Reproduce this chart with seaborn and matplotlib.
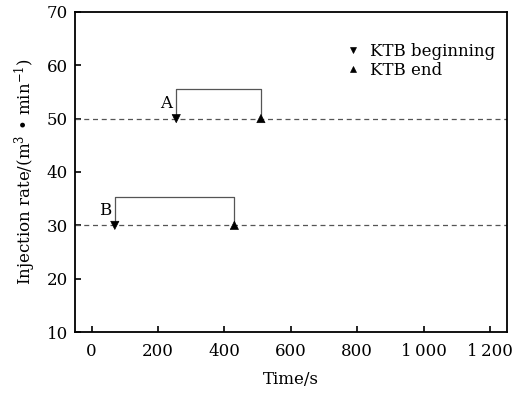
import pandas as pd
import seaborn as sns
import matplotlib.pyplot as plt

sns.set_style("ticks")
plt.rcParams['font.family'] = ['DejaVu Serif']
plt.rcParams['mathtext.fontset'] = 'dejavuserif'
plt.rcParams['text.color'] = 'black'
plt.rcParams['axes.labelcolor'] = 'black'
plt.rcParams['xtick.color'] = 'black'
plt.rcParams['ytick.color'] = 'black'

# data
events = ['A', 'B']
rate = [50, 30]
begin_time = [255, 70]
end_time = [510, 430]
bracket_top = [55.5, 35.3]

df = pd.DataFrame({
    'time': begin_time + end_time,
    'rate': rate + rate,
    'kind': ['KTB beginning'] * len(events) + ['KTB end'] * len(events),
})

fig, ax = plt.subplots(figsize=(5.17, 3.94), dpi=100)

for r in rate:
    ax.axhline(r, color='#555555', lw=0.9, ls=(0, (4, 3)), zorder=1)

for ev, r, t0, t1, top in zip(events, rate, begin_time, end_time, bracket_top):
    ax.plot([t0, t0, t1, t1], [r, top, top, r], color='#555555', lw=0.9, zorder=2)
    ax.text(t0 - 12, r + 1.2, ev, ha='right', va='bottom', fontsize=12)

sns.scatterplot(data=df, x='time', y='rate', style='kind',
                markers={'KTB beginning': 'v', 'KTB end': '^'},
                color='black', s=35, edgecolor='black', zorder=3, ax=ax)

ax.set_xlim(-50, 1250)
ax.set_ylim(10, 70)
ax.set_xticks([0, 200, 400, 600, 800, 1000, 1200])
ax.set_xticklabels(['0', '200', '400', '600', '800', '1\u2009000', '1\u2009200'])
ax.set_yticks([10, 20, 30, 40, 50, 60, 70])
ax.tick_params(direction='in', length=4, width=1.2, labelsize=12)
ax.tick_params(axis='x', pad=8)
ax.tick_params(axis='y', pad=5)
for s in ax.spines.values():
    s.set_linewidth(1.3)
    s.set_color('black')

ax.set_xlabel('Time/s', fontsize=12, labelpad=8)
ax.set_ylabel('Injection rate/(m$^3$ \u2022 min$^{-1}$)', fontsize=12, labelpad=6)

leg = ax.legend(loc='upper right', bbox_to_anchor=(1.0, 0.94), frameon=False,
                fontsize=12, handletextpad=0.0, borderaxespad=0.3,
                labelspacing=0.15, markerscale=0.7)

fig.subplots_adjust(left=0.145, right=0.98, top=0.97, bottom=0.157)
fig.savefig('out.png', dpi=100)
